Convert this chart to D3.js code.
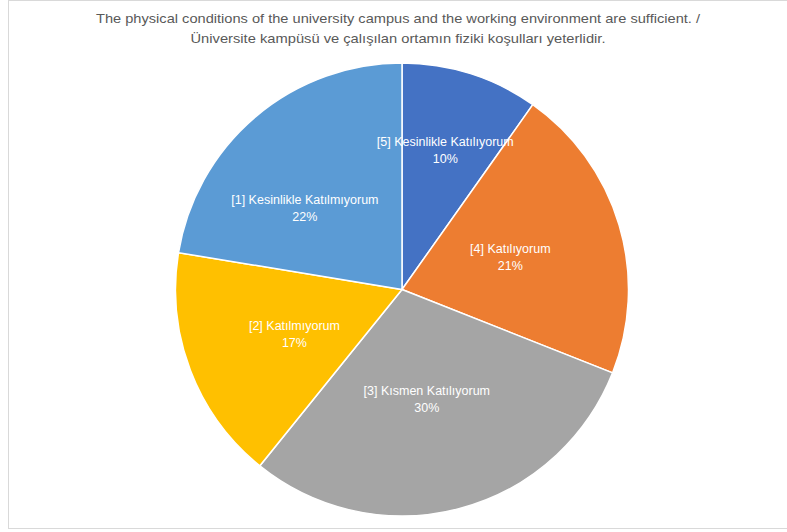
<!DOCTYPE html>
<html>
<head>
<meta charset="utf-8">
<script src="https://cdn.jsdelivr.net/npm/d3@7"></script>
<style>
    body { margin: 0; background: #fff; }
    svg { display: block; font-family: "Liberation Sans", "DejaVu Sans", sans-serif; }
</style>
</head>
<body>
<svg id="chart"></svg>
<script>
// Veriler (yüzde)
const categories = [
    "[5] Kesinlikle Katılıyorum",
    "[4] Katılıyorum",
    "[3] Kısmen Katılıyorum",
    "[2] Katılmıyorum",
    "[1] Kesinlikle Katılmıyorum"
];
const percents = [9.8, 21.2, 29.8, 16.8, 22.4];
const colors = ["#4472C4", "#ED7D31", "#A5A5A5", "#FFC000", "#5B9BD5"];
const titleLines = [
    "The physical conditions of the university campus and the working environment are sufficient. /",
    "Üniversite kampüsü ve çalışılan ortamın fiziki koşulları yeterlidir."
];

// Etiket kaydırmaları (Excel etiketleri dilim içine sığdırır)
const labelNudge = [[9, -32], [0, 0], [-4, 0], [-2, 4], [-24, 5]];

document.addEventListener("DOMContentLoaded", drawChart);

function drawChart() {
    const width = 787;
    const height = 532;
    const cx = 402;
    const cy = 289.5;
    const radius = 226.5;

    const svg = d3.select("svg#chart")
        .attr("width", width)
        .attr("height", height);

    // Рамка
    svg.append("rect")
        .attr("x", 8.5)
        .attr("y", 0.5)
        .attr("width", width)
        .attr("height", 528)
        .attr("fill", "white")
        .attr("stroke", "#d9d9d9")
        .attr("stroke-width", 1);

    // Заголовок
    svg.append("g")
        .selectAll("text")
        .data(titleLines)
        .join("text")
        .attr("x", 398)
        .attr("y", (d, i) => 23 + i * 20)
        .attr("text-anchor", "middle")
        .attr("fill", "#595959")
        .attr("font-size", 13.5)
        .attr("textLength", (d, i) => i === 0 ? 604 : 415)
        .attr("lengthAdjust", "spacingAndGlyphs")
        .text(d => d);

    const pie = d3.pie()
        .sort(null)
        .value(d => d);

    const arcs = pie(percents);

    const arc = d3.arc()
        .innerRadius(0)
        .outerRadius(radius);

    const labelArc = d3.arc()
        .innerRadius(113)
        .outerRadius(113);

    const g = svg.append("g")
        .attr("transform", `translate(${cx},${cy})`);

    // Dilimler
    g.selectAll("path")
        .data(arcs)
        .join("path")
        .attr("d", arc)
        .attr("fill", (d, i) => colors[i])
        .attr("stroke", "white")
        .attr("stroke-width", 1.5);

    // Etiketler
    const labels = g.selectAll("g.label")
        .data(arcs)
        .join("g")
        .attr("class", "label")
        .attr("transform", (d, i) => {
            const c = labelArc.centroid(d);
            return `translate(${c[0] + labelNudge[i][0]},${c[1] + labelNudge[i][1]})`;
        });

    labels.append("text")
        .attr("y", -4)
        .attr("text-anchor", "middle")
        .attr("fill", "white")
        .attr("font-size", 12.5)
        .text((d, i) => categories[i]);

    labels.append("text")
        .attr("y", 13)
        .attr("text-anchor", "middle")
        .attr("fill", "white")
        .attr("font-size", 12.5)
        .text(d => Math.round(d.data) + "%");
}
</script>
</body>
</html>
